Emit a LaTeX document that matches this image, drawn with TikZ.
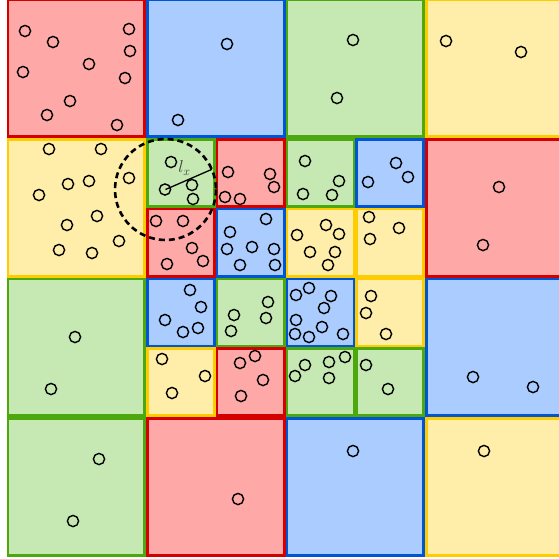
\documentclass[tikz,border=0pt]{standalone}
\definecolor{rfill}{HTML}{FFA8A8}\definecolor{rline}{HTML}{D40000}
\definecolor{bfill}{HTML}{AACCFF}\definecolor{bline}{HTML}{0055D4}
\definecolor{gfill}{HTML}{C6E9B4}\definecolor{gline}{HTML}{4CA80C}
\definecolor{yfill}{HTML}{FFEEAA}\definecolor{yline}{HTML}{FFCC00}
\tikzset{
  rbox/.style={fill=rfill,draw=rline,line width=2.7pt},
  bbox/.style={fill=bfill,draw=bline,line width=2.7pt},
  gbox/.style={fill=gfill,draw=gline,line width=2.7pt},
  ybox/.style={fill=yfill,draw=yline,line width=2.7pt},
  pt/.style={draw=black,line width=1.4pt},
}
\begin{document}
\begin{tikzpicture}[x=1pt,y=-1pt]
\useasboundingbox (0,0) rectangle (559,558);
\clip (0,0) rectangle (559,558);
% big cells
\foreach \c/\x/\y in {r/6.5/-1.5, b/146/-1.5, g/285.5/-1.5, y/425/-1.5,
  y/6.5/138, r/425/138, g/6.5/277.5, b/425/277.5,
  g/6.5/417, r/146/417, b/285.5/417, y/425/417}
  \draw[\c box] ([shift={(1.35,1.35)}]\x,\y) rectangle ([shift={(-1.35,-1.35)}]\x+139.5,\y+139.5);
% small cells
\foreach \c/\x/\y in {g/146/138, r/215.75/138, r/146/207.75, b/215.75/207.75,
  g/285.5/138, b/355.25/138, y/285.5/207.75, y/355.25/207.75,
  b/146/277.5, g/215.75/277.5, y/146/347.25, r/215.75/347.25,
  b/285.5/277.5, y/355.25/277.5, g/285.5/347.25, g/355.25/347.25}
  \draw[\c box] ([shift={(1.35,1.35)}]\x,\y) rectangle ([shift={(-1.35,-1.35)}]\x+69.75,\y+69.75);
% points
\foreach \p in {
  (25,31),(53,42),(129,29),(130,51),(23,72),(89,64),(125,78),(70,101),(47,115),(117,125),
  (227,44),(178,120),
  (353,40),(337,98),
  (446,41),(521,52),
  (49,149),(101,149),(39,195),(68,184),(89,181),(129,178),(67,225),(97,216),(119,241),(59,250),(92,253),
  (171,162),(165,189.5),(192,185),(193,199),
  (228,172),(270,174),(274,187),(225,197),(240,199),
  (156,221),(183,221),(192,248),(203,261),(167,264),
  (266,219),(230,232),(227,249),(252,247),(274,249),(240,265),(275,265),
  (305,161),(339,181),(303,194),(332,195),
  (396,163),(408,177),(368,182),
  (326,225),(339,234),(297,235),(310,252),(335,252),(328,265),
  (369,217),(399,228),(370,239),
  (499,187),(483,245),
  (75,337),(51,389),
  (190,290),(201,307),(165,320),(183,332),(198,328),
  (268,302),(234,315),(266,318),(231,331),
  (162,359),(205,376),(172,393),
  (255,356),(240,363),(263,380),(241,396),
  (309,288),(296,295),(331,296),(324,308),(296,320),(322,327),(295,334),(309,337),(343,334),
  (371,296),(366,313),(386,334),
  (345,357),(305,365),(329,362),(295,376),(329,378),
  (366,365),(388,389),
  (473,377),(533,387),
  (99,459),(73,521),
  (238,499),
  (353,451),
  (484,451)}
  \draw[pt] \p circle (5.6);
% neighbourhood circle
\coordinate (c) at (165.5,189.5);
\draw[line width=2.6pt,dash pattern=on 6pt off 4pt] (c) circle (50.5);
\coordinate (e) at ([shift={(-23.5:50.5)}]c);
\draw[line width=1.3pt] (c) -- (e);
\node[text=black!75,inner sep=0pt] (lx) at (184.5,168) {\fontsize{17}{17}\selectfont$l_x$};
\end{tikzpicture}
\end{document}
